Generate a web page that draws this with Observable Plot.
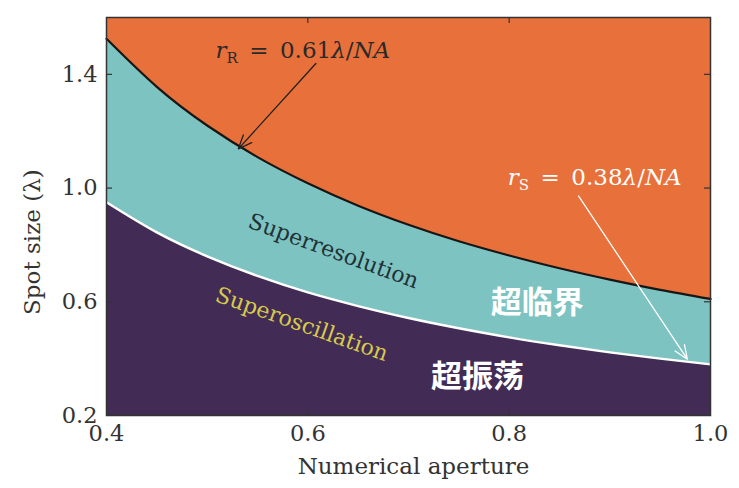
<!DOCTYPE html>
<html>
<head>
<meta charset="utf-8">
<script src="https://cdn.jsdelivr.net/npm/d3@7"></script>
<script src="https://cdn.jsdelivr.net/npm/@observablehq/plot@0.6"></script>
<style>
  html, body { margin: 0; padding: 0; background: #fff; }
</style>
</head>
<body>
<div id="chart"></div>
<script>
// Numerical aperture samples and the two boundary curves
const na = [0.40, 0.45, 0.50, 0.55, 0.60, 0.65, 0.70, 0.75, 0.80, 0.85, 0.90, 0.95, 1.00];
const rR = [1.525, 1.356, 1.220, 1.109, 1.017, 0.938, 0.871, 0.813, 0.763, 0.718, 0.678, 0.642, 0.610];
const rS = [0.950, 0.844, 0.760, 0.691, 0.633, 0.585, 0.543, 0.507, 0.475, 0.447, 0.422, 0.400, 0.380];

const xTicks = [0.4, 0.6, 0.8, 1.0];
const yTicks = [0.2, 0.6, 1.0, 1.4];
const xInner = [0.6, 0.8];
const yInner = [0.6, 1.0, 1.4];

// Annotation texts and anchors (data units)
const formulaLabels = ["rR = 0.61λ/NA", "rS = 0.38λ/NA"];
const formulaX = [0.595, 0.885];
const formulaY = [1.484, 1.036];
const regionLabels = ["Superresolution", "Superoscillation"];
const regionX = [0.6255, 0.594];
const regionY = [0.778, 0.521];
const cnLabels = ["超临界", "超振荡"];
const cnX = [0.828, 0.7686];
const cnY = [0.595, 0.334];
const arrowX1 = [0.608, 0.869];
const arrowY1 = [1.438, 0.972];
const arrowX2 = [0.531, 0.977];
const arrowY2 = [1.138, 0.398];

const ORANGE = "#E8703A";
const TEAL = "#7DC3C1";
const PURPLE = "#422C55";

const table = na.map((x, i) => ({na: x, rR: rR[i], rS: rS[i]}));
const formulas = formulaLabels.map((t, i) => ({t, x: formulaX[i], y: formulaY[i]}));
const regions = regionLabels.map((t, i) => ({t, x: regionX[i], y: regionY[i]}));
const cns = cnLabels.map((t, i) => ({t, x: cnX[i], y: cnY[i]}));
const arrows = arrowX1.map((x, i) => ({x1: x, y1: arrowY1[i], x2: arrowX2[i], y2: arrowY2[i]}));

const W = 739, H = 488, MT = 17, MB = 73, ML = 106, MR = 29;
const FH = H - MT - MB, FW = W - ML - MR;
const serif = "DejaVu Serif";

const chart = Plot.plot({
  width: W,
  height: H,
  marginTop: MT,
  marginBottom: MB,
  marginLeft: ML,
  marginRight: MR,
  style: {fontFamily: serif, fontSize: "22px", background: "#fff"},
  x: {domain: [0.4, 1.0]},
  y: {domain: [0.2, 1.6]},
  marks: [
    Plot.frame({fill: ORANGE}),
    Plot.areaY(table, {x: "na", y1: "rS", y2: "rR", fill: TEAL, curve: "natural"}),
    Plot.areaY(table, {x: "na", y1: 0.2, y2: "rS", fill: PURPLE, curve: "natural"}),
    Plot.line(table, {x: "na", y: "rR", stroke: "#161616", strokeWidth: 2.2, curve: "natural"}),
    Plot.line(table, {x: "na", y: "rS", stroke: "#ffffff", strokeWidth: 2.4, curve: "natural"}),
    // inward ticks on all four sides
    Plot.ruleX(xInner, {x: d => d, insetTop: FH - 6, stroke: "#333", strokeWidth: 1.2}),
    Plot.ruleX(xInner, {x: d => d, insetBottom: FH - 6, stroke: "#333", strokeWidth: 1.2}),
    Plot.ruleY(yInner, {y: d => d, insetRight: FW - 6, stroke: "#333", strokeWidth: 1.2}),
    Plot.ruleY(yInner, {y: d => d, insetLeft: FW - 6, stroke: "#333", strokeWidth: 1.2}),
    Plot.axisX({ticks: xTicks, tickSize: 0, tickPadding: 10, tickFormat: d3.format(".1f"), label: null, fontSize: 22.5, fill: "#333"}),
    Plot.axisY({ticks: yTicks, tickSize: 0, tickPadding: 9, tickFormat: d3.format(".1f"), label: null, fontSize: 22.5, fill: "#333"}),
    Plot.text(["Numerical aperture"], {frameAnchor: "bottom", lineAnchor: "middle", textAnchor: "middle", dx: 5, dy: 51, fontSize: 23, fill: "#333"}),
    Plot.text(["Spot size (λ)"], {frameAnchor: "left", textAnchor: "middle", lineAnchor: "middle", y: [0.81], dx: -74, rotate: -90, fontSize: 23, fill: "#333"}),
    Plot.arrow(arrows.slice(0, 1), {x1: "x1", y1: "y1", x2: "x2", y2: "y2", stroke: "#222", strokeWidth: 1.3, headLength: 17, headAngle: 45}),
    Plot.arrow(arrows.slice(1), {x1: "x1", y1: "y1", x2: "x2", y2: "y2", stroke: "#fff", strokeWidth: 1.3, headLength: 17, headAngle: 45}),
    Plot.text(formulas.slice(0, 1), {x: "x", y: "y", text: "t", fontSize: 23, fill: "#2a2a2a"}),
    Plot.text(formulas.slice(1), {x: "x", y: "y", text: "t", fontSize: 23, fill: "#ffffff"}),
    Plot.text(regions.slice(0, 1), {x: "x", y: "y", text: "t", rotate: 20, fontSize: 22, fill: "#1f3236"}),
    Plot.text(regions.slice(1), {x: "x", y: "y", text: "t", rotate: 19.5, fontSize: 22, fill: "#D6CB4C"}),
    Plot.text(cns, {x: "x", y: "y", text: "t", fontSize: 31, fontWeight: "bold", fill: "#fff", fontFamily: "Noto Sans CJK SC"}),
    Plot.frame({stroke: "#333", strokeWidth: 1.5})
  ]
});

// Rich math formatting for the two formula labels
d3.select(chart).selectAll("text").each(function() {
  const el = this;
  const s = el.textContent;
  const m = /^r([RS]) = (0\.\d+)λ\/NA$/.exec(s);
  if (!m) return;
  el.textContent = "";
  const sel = d3.select(el);
  sel.append("tspan").attr("font-style", "italic").text("r");
  sel.append("tspan").attr("font-size", "15px").attr("dy", "5").text(m[1]);
  sel.append("tspan").attr("dy", "-5").text("\u2002=\u2002" + m[2]);
  sel.append("tspan").attr("font-style", "italic").text("λ");
  sel.append("tspan").text("/");
  sel.append("tspan").attr("font-style", "italic").text("NA");
});

document.getElementById("chart").appendChild(chart);
</script>
</body>
</html>
